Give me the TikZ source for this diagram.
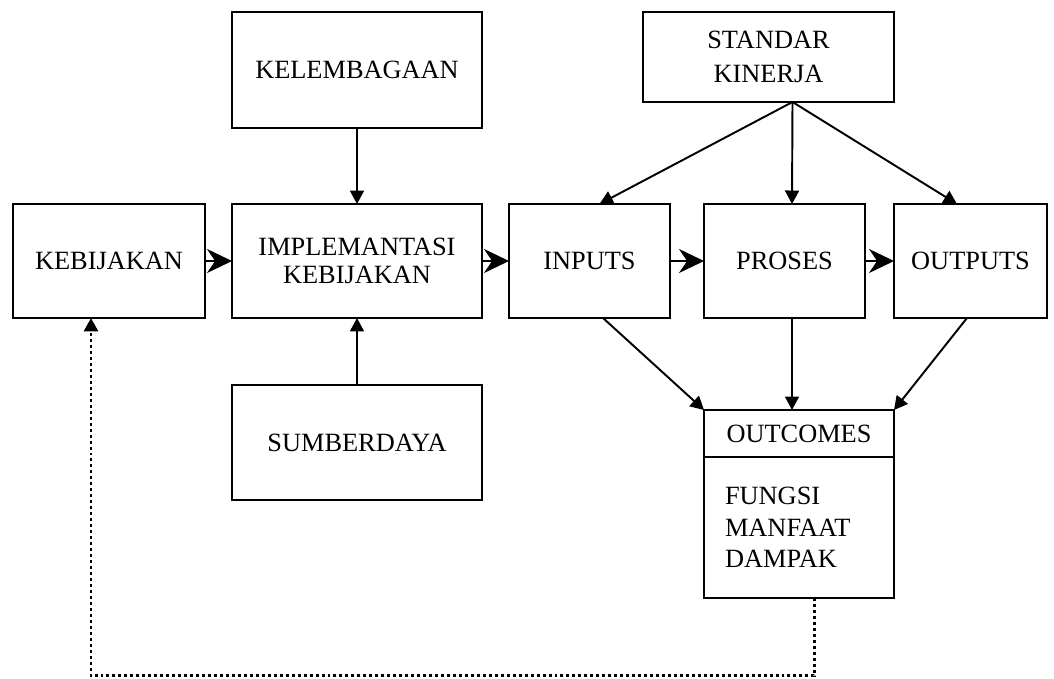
\documentclass[tikz,border=0pt]{standalone}
\usepackage{fontspec}
\setmainfont{Liberation Serif}
\usetikzlibrary{arrows.meta,positioning,calc}

\begin{document}
\begin{tikzpicture}[
    x=0.02cm, y=-0.02cm,
    box/.style={draw, line width=1.1pt, inner sep=0pt, outer sep=0pt,
                align=center, font=\fontsize{15}{17}\selectfont},
    harr/.style={-{Stealth[length=0.5cm, width=0.48cm, inset=0.16cm]}, line width=1.1pt},
    arr/.style={-{Triangle[length=0.27cm, width=0.28cm]}, line width=1.1pt},
    dotarr/.style={-{Triangle[length=0.27cm, width=0.28cm]}, line width=1.7pt,
                   dash pattern=on 1.7pt off 1.7pt}
  ]
  \useasboundingbox (0,0) rectangle (1054,679);
  % Main row
  \node[box, minimum width=3.84cm, minimum height=2.28cm] (keb) at (109,261) {KEBIJAKAN};
  \node[box, minimum width=5.0cm, minimum height=2.28cm,
        font=\fontsize{15}{15.5}\selectfont] (impl) at (357,261)
        {IMPLEMANTASI\\KEBIJAKAN};
  \node[box, minimum width=3.22cm, minimum height=2.28cm] (inp) at (589.5,261) {INPUTS};
  \node[box, minimum width=3.22cm, minimum height=2.28cm] (pro) at (784.5,261) {PROSES};
  \node[box, minimum width=3.06cm, minimum height=2.28cm] (outp) at (970.5,261) {OUTPUTS};
  % Upper and lower boxes
  \node[box, minimum width=5.0cm, minimum height=2.32cm] (kel) at (357,70) {KELEMBAGAAN};
  \node[box, minimum width=5.0cm, minimum height=2.3cm] (sumb) at (357,442.5) {SUMBERDAYA};
  \node[box, minimum width=5.02cm, minimum height=1.8cm,
        font=\fontsize{15}{19}\selectfont] (std) at (768.5,57) {STANDAR\\KINERJA};
  % Outcomes box
  \node[box, minimum width=3.8cm, minimum height=0.94cm] (outc) at (799,433.5) {OUTCOMES};
  \node[box, minimum width=3.8cm, minimum height=2.82cm, text width=2.96cm,
        inner xsep=0.42cm, align=left, font=\fontsize{15}{18}\selectfont,
        below=0pt of outc] (outb) {FUNGSI\\MANFAAT\\DAMPAK};
  % Horizontal flow
  \draw[harr] (keb.east) -- (impl.west);
  \draw[harr] (impl.east) -- (inp.west);
  \draw[harr] (inp.east) -- (pro.west);
  \draw[harr] (pro.east) -- (outp.west);
  % Into implementation
  \draw[arr] (kel.south) -- (impl.north);
  \draw[arr] (sumb.north) -- (impl.south);
  % Standard
  \coordinate (apex) at ($(std.south)+(24,0)$);
  \draw[arr] (apex) -- ($(inp.north)+(10,0)$);
  \draw[arr] (apex) -- ($(pro.north)+(7.5,0)$);
  \draw[arr] (apex) -- ($(outp.north)+(-13.5,0)$);
  % Into outcomes
  \draw[arr] ($(inp.south)+(13.5,0)$) -- (outc.north west);
  \draw[arr] ($(pro.south)+(7.5,0)$) coordinate (pdown) -- (pdown |- outc.north);
  \draw[arr] ($(outp.south)+(-3.5,0)$) -- (outc.north east);
  % Feedback
  \draw[dotarr] ($(outb.south)+(15,0)$) -- ++(0,78) coordinate (fb)
    -| ($(keb.south)+(-18,0)$);
\end{tikzpicture}
\end{document}
